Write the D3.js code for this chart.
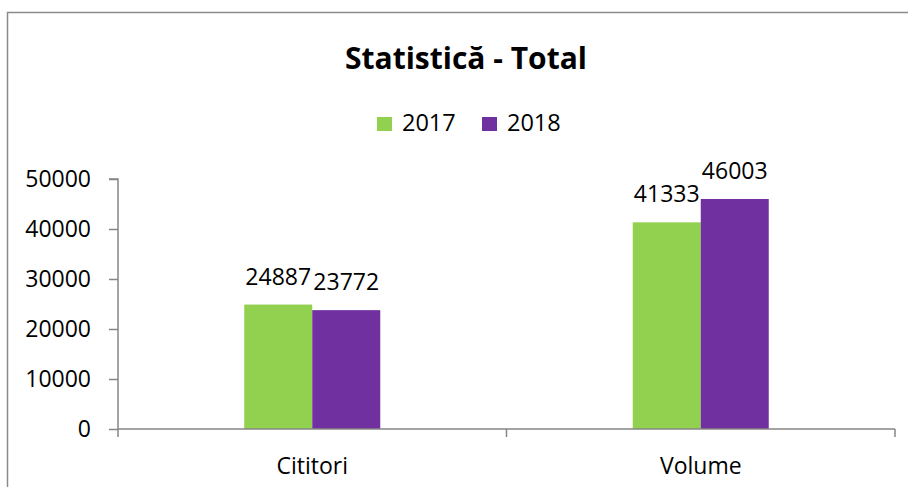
<!DOCTYPE html>
<html>
<head>
<meta charset="utf-8">
<script src="https://cdn.jsdelivr.net/npm/d3@7/dist/d3.min.js"></script>
<style>
  html, body { margin: 0; padding: 0; background: #fff; }
  svg { display: block; font-family: "Open Sans", sans-serif; }
</style>
</head>
<body>
<svg id="chart" width="908" height="487"></svg>
<script>
const categories = ["Cititori", "Volume"];
const seriesNames = ["2017", "2018"];
const values2017 = [24887, 41333];
const values2018 = [23772, 46003];
const yTicks = [0, 10000, 20000, 30000, 40000, 50000];
const colors = ["#92D050", "#7030A0"];
const titleText = "Statistică - Total";

const seriesValues = [values2017, values2018];
const svg = d3.select("#chart");

// outer border (chart area frame)
svg.append("rect")
  .attr("x", 7.5).attr("y", 12.5)
  .attr("width", 1000).attr("height", 1000)
  .attr("fill", "#fff")
  .attr("stroke", "#8a8a8a").attr("stroke-width", 1.5);

const plotLeft = 118, plotRight = 895, plotTop = 179, plotBottom = 429;

const y = d3.scaleLinear().domain([0, 50000]).range([plotBottom, plotTop]);
const x = d3.scaleBand().domain(categories).range([plotLeft, plotRight]).padding(0);
const groupWidth = 136;
const x1 = d3.scaleBand().domain(seriesNames).range([0, groupWidth]).padding(0);

// title
svg.append("text")
  .attr("x", 466).attr("y", 69)
  .attr("text-anchor", "middle")
  .attr("font-size", 30).attr("font-weight", "bold")
  .attr("fill", "#000")
  .text(titleText);

// legend
const legendItems = [{ name: seriesNames[0], x: 377 }, { name: seriesNames[1], x: 482 }];
legendItems.forEach((d, i) => {
  svg.append("rect")
    .attr("x", d.x).attr("y", 117)
    .attr("width", 15).attr("height", 14)
    .attr("fill", colors[i]);
  svg.append("text")
    .attr("x", d.x + 25).attr("y", 131)
    .attr("font-size", 23.5).attr("fill", "#000")
    .text(d.name);
});

// y axis
const yAxis = d3.axisLeft(y).tickValues(yTicks).tickSize(9).tickPadding(18).tickFormat(d3.format("d"));
const gy = svg.append("g").attr("transform", `translate(${plotLeft},0)`).call(yAxis);
gy.select(".domain").attr("stroke", "#868686").attr("stroke-width", 1.5)
  .attr("d", `M-9,${plotTop}H0V${plotBottom}`);
gy.selectAll(".tick line").attr("stroke", "#868686").attr("stroke-width", 1.5);
gy.selectAll(".tick text").attr("font-size", 23).attr("fill", "#000")
  .attr("font-family", "Open Sans, sans-serif");

// bars
categories.forEach((c, ci) => {
  const gx = x(c) + (x.bandwidth() - groupWidth) / 2;
  seriesNames.forEach((s, si) => {
    const v = seriesValues[si][ci];
    svg.append("rect")
      .attr("x", gx + x1(s)).attr("y", y(v))
      .attr("width", x1.bandwidth()).attr("height", y(0) - y(v))
      .attr("fill", colors[si]);
    svg.append("text")
      .attr("x", gx + x1(s) + x1.bandwidth() / 2)
      .attr("y", y(v) - 20)
      .attr("text-anchor", "middle")
      .attr("font-size", 23).attr("fill", "#000")
      .text(v);
  });
});

// x axis
const xAxis = d3.axisBottom(x).tickSize(0).tickPadding(29);
const gx = svg.append("g").attr("transform", `translate(0,${plotBottom})`).call(xAxis);
gx.select(".domain").attr("stroke", "#868686").attr("stroke-width", 1.5)
  .attr("d", `M${plotLeft},0H${plotRight}`);
gx.selectAll(".tick text").attr("font-size", 23).attr("fill", "#000")
  .attr("font-family", "Open Sans, sans-serif");

// category boundary ticks
const boundaries = categories.map(c => x(c)).concat([x.range()[1]]);
gx.selectAll("line.boundary").data(boundaries).enter().append("line")
  .attr("class", "boundary")
  .attr("x1", d => d).attr("x2", d => d)
  .attr("y1", 0).attr("y2", 8)
  .attr("stroke", "#868686").attr("stroke-width", 1.5);
</script>
</body>
</html>
